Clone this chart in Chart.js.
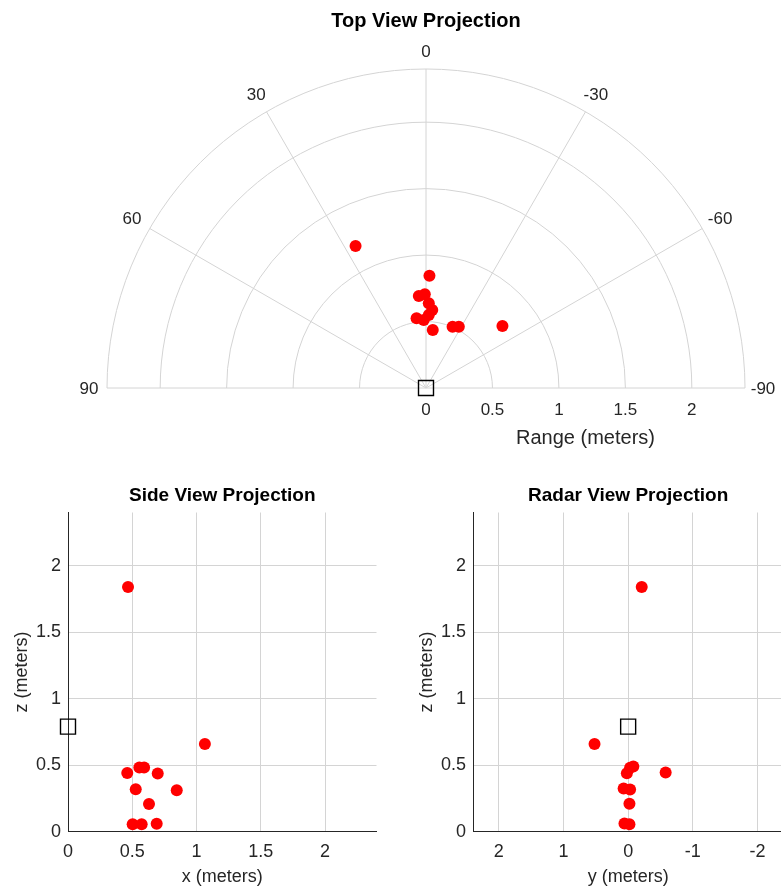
<!DOCTYPE html>
<html>
<head>
<meta charset="utf-8">
<title>Projections</title>
<script src="https://cdn.jsdelivr.net/npm/chart.js@4.4.1/dist/chart.umd.min.js"></script>
<style>
  html, body { margin: 0; padding: 0; background: #fff; overflow: hidden; width: 781px; height: 888px; }
  canvas { position: absolute; display: block; }
</style>
</head>
<body>
<canvas id="topView" width="781" height="460" style="left:0;top:0"></canvas>
<canvas id="sideView" width="390" height="408" style="left:0;top:480px"></canvas>
<canvas id="radarView" width="400" height="408" style="left:390px;top:480px"></canvas>
<script>
// limits and ticks, meters / degrees
const RANGE_MAX = 2.4;
const meterTicks = [0, 0.5, 1, 1.5, 2];
const lateralTicks = [-2, -1, 0, 1, 2];
const ringRanges = [0.5, 1, 1.5, 2];
const spokeAngles = [90, 60, 30, 0, -30, -60, -90];

// top view: forward distance x and lateral offset y (+ is left)
const topX = [1.068, 0.844, 0.692, 0.705, 0.637, 0.586, 0.549, 0.524, 0.511, 0.436, 0.461, 0.461, 0.466];
const topY = [0.53, -0.026, 0.054, 0.009, -0.021, -0.047, -0.021, 0.071, 0.017, -0.051, -0.2, -0.247, -0.575];

// side view: x against height z
const sideX = [0.467, 1.065, 0.461, 0.555, 0.592, 0.698, 0.527, 0.846, 0.63, 0.503, 0.573, 0.69];
const sideZ = [1.84, 0.66, 0.442, 0.483, 0.483, 0.438, 0.32, 0.312, 0.209, 0.056, 0.056, 0.059];

// radar view: y against height z
const radarY = [-0.21, 0.52, -0.03, -0.08, 0.02, -0.58, 0.07, -0.03, -0.02, 0.057, -0.02];
const radarZ = [1.84, 0.66, 0.48, 0.49, 0.44, 0.445, 0.325, 0.317, 0.21, 0.062, 0.056];

// sensor location
const sensorX = [0];
const sensorY = [0];
const sensorZ = [0.79];

const FONT = "'Liberation Sans', Arial, Helvetica, sans-serif";
const TEXT = '#262626';
const GRID = '#d4d4d4';

Chart.defaults.font.family = FONT;
Chart.defaults.color = TEXT;

function pointSet(xs, ys) {
  return xs.map((v, i) => ({ x: v, y: ys[i] }));
}

function detections(data) {
  return { data, pointStyle: 'circle', pointRadius: 6, pointHoverRadius: 6,
    backgroundColor: '#ff0000', borderWidth: 0, clip: false };
}

function sensor(data) {
  return { data, pointStyle: 'rect', pointRadius: 10.6, pointHoverRadius: 10.6,
    backgroundColor: 'rgba(0,0,0,0)', borderColor: '#000', borderWidth: 1.4, clip: false };
}

function fixedTicks(values) {
  return s => { s.ticks = values.map(v => ({ value: v })); };
}

// half-disc range/bearing grid for the top view
const polarGrid = {
  id: 'polarGrid',
  beforeDatasetsDraw(chart) {
    const { ctx, scales: { x, y } } = chart;
    const cx = x.getPixelForValue(0), cy = y.getPixelForValue(0);
    const outer = x.getPixelForValue(RANGE_MAX) - cx;
    ctx.save();
    ctx.strokeStyle = GRID;
    ctx.lineWidth = 1;
    ringRanges.concat([RANGE_MAX]).forEach(r => {
      ctx.beginPath();
      ctx.arc(cx, cy, x.getPixelForValue(r) - cx, Math.PI, 2 * Math.PI);
      ctx.stroke();
    });
    spokeAngles.forEach(a => {
      const t = a * Math.PI / 180;
      ctx.beginPath();
      ctx.moveTo(cx, cy);
      ctx.lineTo(cx - outer * Math.sin(t), cy - outer * Math.cos(t));
      ctx.stroke();
    });
    // bearing labels just outside the rim
    ctx.fillStyle = TEXT;
    ctx.font = '17px ' + FONT;
    ctx.textAlign = 'center';
    ctx.textBaseline = 'middle';
    spokeAngles.forEach(a => {
      const t = a * Math.PI / 180;
      const r = outer + 18 + 3 * Math.abs(Math.sin(2 * t));
      ctx.fillText(String(a), cx - r * Math.sin(t), cy - r * Math.cos(t) + 1);
    });
    ctx.restore();
  },
  afterDraw(chart) {
    const { ctx, scales: { x, y } } = chart;
    const cx = x.getPixelForValue(0), cy = y.getPixelForValue(0);
    const outer = x.getPixelForValue(RANGE_MAX) - cx;
    ctx.save();
    ctx.fillStyle = TEXT;
    ctx.font = '20px ' + FONT;
    ctx.textAlign = 'center';
    ctx.textBaseline = 'middle';
    ctx.fillText('Range (meters)', cx + outer / 2, cy + 50);
    ctx.restore();
  }
};

new Chart(document.getElementById('topView'), {
  type: 'scatter',
  data: {
    datasets: [
      detections(pointSet(topY.map(v => -v), topX)),
      sensor(pointSet(sensorY.map(v => -v), sensorX))
    ]
  },
  options: {
    responsive: false,
    animation: false,
    events: [],
    layout: { autoPadding: false, padding: { left: 107, right: 36, top: 0, bottom: 0 } },
    plugins: {
      legend: { display: false },
      tooltip: { enabled: false },
      title: { display: true, text: 'Top View Projection', color: '#000',
        font: { size: 20, weight: 'bold' }, padding: { top: 9.5, bottom: 35.5 } }
    },
    scales: {
      x: {
        type: 'linear', min: -RANGE_MAX, max: RANGE_MAX,
        afterBuildTicks: fixedTicks(meterTicks),
        afterFit: s => { s.height = 72; },
        grid: { display: false },
        border: { display: false },
        ticks: { padding: 4, font: { size: 17 }, color: TEXT, maxRotation: 0, autoSkip: false,
          callback: v => String(v) }
      },
      y: { type: 'linear', min: 0, max: RANGE_MAX, display: false }
    }
  },
  plugins: [polarGrid]
});

function projection(id, title, pts, sensorPts, xCfg, xTitle, axisWidth, yTitlePad, padRight) {
  return new Chart(document.getElementById(id), {
    type: 'scatter',
    data: { datasets: [detections(pts), sensor(sensorPts)] },
    options: {
      responsive: false,
      animation: false,
      events: [],
      layout: { autoPadding: false, padding: { left: 0, right: padRight, top: 0, bottom: 0 } },
      plugins: {
        legend: { display: false },
        tooltip: { enabled: false },
        title: { display: true, text: title, color: '#000', fullSize: false,
          font: { size: 19, weight: 'bold' }, padding: { top: 4.6, bottom: 5.1 } }
      },
      scales: {
        x: Object.assign({
          type: 'linear',
          afterFit: s => { s.height = 56.3; },
          grid: { color: GRID, drawTicks: false },
          border: { color: TEXT, width: 1 },
          ticks: { padding: 10, font: { size: 18 }, color: TEXT, maxRotation: 0, autoSkip: false,
            callback: v => String(v) },
          title: { display: true, text: xTitle, font: { size: 18 }, color: TEXT, padding: { top: 0, bottom: 0.5 } }
        }, xCfg),
        y: {
          type: 'linear', min: 0, max: RANGE_MAX,
          afterBuildTicks: fixedTicks(meterTicks),
          afterFit: s => { s.width = axisWidth; },
          grid: { color: GRID, drawTicks: false },
          border: { color: TEXT, width: 1 },
          ticks: { padding: 7, font: { size: 18 }, color: TEXT, autoSkip: false,
            callback: v => String(v) },
          title: { display: true, text: 'z (meters)', font: { size: 18 }, color: TEXT,
            padding: { top: yTitlePad, bottom: 0 } }
        }
      }
    }
  });
}

projection('sideView', 'Side View Projection',
  pointSet(sideX, sideZ), pointSet(sensorX, sensorZ),
  { min: 0, max: RANGE_MAX, afterBuildTicks: fixedTicks(meterTicks) },
  'x (meters)', 68, 11.7, 13.5);

projection('radarView', 'Radar View Projection',
  pointSet(radarY, radarZ), pointSet(sensorY, sensorZ),
  { min: -RANGE_MAX, max: RANGE_MAX, reverse: true, afterBuildTicks: fixedTicks(lateralTicks) },
  'y (meters)', 83, 26.4, 6.7);
</script>
</body>
</html>
